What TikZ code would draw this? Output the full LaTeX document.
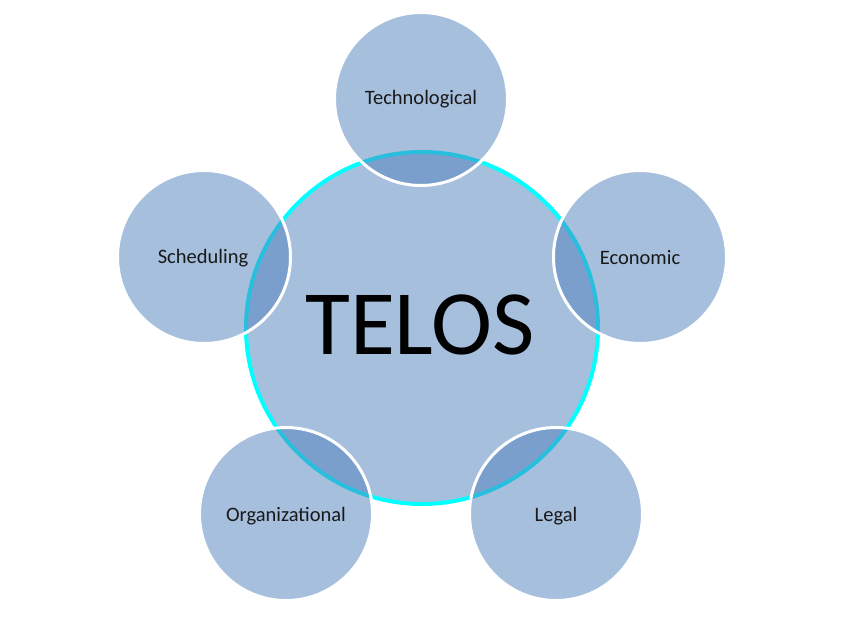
\documentclass[tikz,border=0pt]{standalone}
\usepackage{fontspec}
\setmainfont{Carlito}
\definecolor{accent}{HTML}{4F81BD}
\definecolor{ringcyan}{HTML}{00FFFF}
\begin{document}
\begin{tikzpicture}[x=1pt,y=-1pt,
  hub/.style={circle, draw=ringcyan, line width=4pt, fill=accent, fill opacity=0.5, draw opacity=1, text opacity=1, minimum size=352pt, inner sep=0pt},
  petal/.style={circle, draw=white, line width=3pt, fill=accent, fill opacity=0.5, draw opacity=1, text opacity=1, minimum size=173pt, inner sep=0pt},
  lab/.style={font=\fontsize{20.5}{24}\selectfont, text=black!90, inner sep=0pt}]
\useasboundingbox (0,0) rectangle (850,623);
\fill[white] (0,0) rectangle (850,623);
\node[hub] (hub) at (422,328) {};
\node[font=\fontsize{92}{100}\selectfont, text=black] (telos) at (420,325) {TELOS};
\node[petal] (tech) at (421,99) {};
\node[petal] (econ) at (640,257) {};
\node[petal] (legal) at (556,514) {};
\node[petal] (org) at (286,514) {};
\node[petal] (sched) at (204,257) {};
\node[lab] (techl) at (421,99) {Technological};
\node[lab] (econl) at (640,258) {Economic};
\node[lab] (legall) at (556,516) {Legal};
\node[lab] (orgl) at (286,516) {Organizational};
\node[lab] (schedl) at (203,258) {Scheduling};
\end{tikzpicture}
\end{document}
